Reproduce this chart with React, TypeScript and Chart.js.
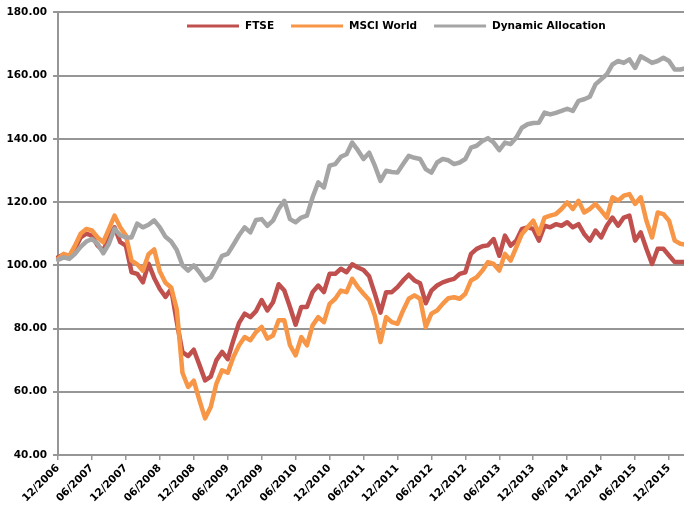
import React, { useEffect, useRef } from "react";
import { Chart, registerables } from "chart.js";

Chart.register(...registerables);

const months = [
  "12/2006",
  "01/2007", "02/2007", "03/2007", "04/2007", "05/2007", "06/2007", "07/2007", "08/2007", "09/2007", "10/2007", "11/2007", "12/2007",
  "01/2008", "02/2008", "03/2008", "04/2008", "05/2008", "06/2008", "07/2008", "08/2008", "09/2008", "10/2008", "11/2008", "12/2008",
  "01/2009", "02/2009", "03/2009", "04/2009", "05/2009", "06/2009", "07/2009", "08/2009", "09/2009", "10/2009", "11/2009", "12/2009",
  "01/2010", "02/2010", "03/2010", "04/2010", "05/2010", "06/2010", "07/2010", "08/2010", "09/2010", "10/2010", "11/2010", "12/2010",
  "01/2011", "02/2011", "03/2011", "04/2011", "05/2011", "06/2011", "07/2011", "08/2011", "09/2011", "10/2011", "11/2011", "12/2011",
  "01/2012", "02/2012", "03/2012", "04/2012", "05/2012", "06/2012", "07/2012", "08/2012", "09/2012", "10/2012", "11/2012", "12/2012",
  "01/2013", "02/2013", "03/2013", "04/2013", "05/2013", "06/2013", "07/2013", "08/2013", "09/2013", "10/2013", "11/2013", "12/2013",
  "01/2014", "02/2014", "03/2014", "04/2014", "05/2014", "06/2014", "07/2014", "08/2014", "09/2014", "10/2014", "11/2014", "12/2014",
  "01/2015", "02/2015", "03/2015", "04/2015", "05/2015", "06/2015", "07/2015", "08/2015", "09/2015", "10/2015", "11/2015", "12/2015",
  "01/2016", "02/2016", "03/2016",
];

const ftse = [
  102.5, 103.4, 102.5, 105.2, 108.8, 110.0, 109.4, 106.2, 104.6, 108.8,
  112.0, 107.3, 106.2, 97.8, 97.3, 94.6, 100.5, 96.0, 92.5, 90.0,
  92.5, 82.0, 72.5, 71.3, 73.3, 68.5, 63.6, 64.8, 70.0, 72.6,
  70.3, 76.3, 81.8, 84.7, 83.6, 85.5, 89.0, 85.7, 88.3, 94.0,
  92.0, 86.8, 81.2, 86.8, 86.8, 91.5, 93.6, 91.5, 97.3, 97.3,
  98.9, 97.8, 100.3, 99.3, 98.5, 96.5, 91.0, 85.0, 91.5, 91.5,
  93.1, 95.2, 97.0, 95.2, 94.3, 88.0, 92.0, 93.6, 94.6, 95.2,
  95.7, 97.3, 97.8, 103.6, 105.2, 106.0, 106.3, 108.3, 103.0, 109.4,
  106.2, 107.8, 111.5, 112.0, 111.5, 107.8, 112.5, 112.0, 113.0, 112.5,
  113.6, 112.0, 113.0, 109.9, 107.8, 111.0, 108.8, 112.5, 115.1, 112.5,
  115.1, 115.7, 107.8, 110.4, 105.2, 100.4, 105.2, 105.2, 103.1, 101.0,
  101.0, 101.0,
];

const msciWorld = [
  102.0, 103.6, 103.0, 106.2, 110.0, 111.5, 111.0, 108.8, 107.3, 111.5,
  115.7, 112.0, 109.4, 101.5, 100.3, 98.3, 103.5, 105.0, 98.0, 94.5,
  93.0, 86.0, 66.0, 61.5, 63.5, 57.3, 51.6, 55.2, 62.6, 66.8,
  66.0, 71.0, 74.7, 77.3, 76.3, 78.9, 80.5, 76.8, 77.8, 82.6,
  82.6, 74.7, 71.5, 77.3, 74.7, 81.0, 83.6, 82.0, 87.8, 89.4,
  92.0, 91.5, 95.7, 93.1, 91.0, 89.0, 84.0, 75.7, 83.6, 82.0,
  81.5, 85.7, 89.4, 90.5, 89.4, 80.5, 84.7, 85.7, 87.8, 89.6,
  89.9, 89.4, 91.0, 95.2, 96.2, 98.3, 101.0, 100.4, 98.3, 103.6,
  101.5, 105.7, 109.9, 112.0, 114.1, 109.9, 115.1, 115.7, 116.2, 117.8,
  119.9, 117.8, 120.4, 116.7, 117.8, 119.4, 117.3, 115.1, 121.5, 120.4,
  122.0, 122.5, 119.4, 121.5, 114.1, 108.8, 116.7, 116.2, 114.1, 107.8,
  106.8, 106.5,
];

const dynamicAllocation = [
  101.7, 102.5, 102.0, 103.6, 105.8, 107.5, 108.3, 106.8, 103.8, 106.8,
  111.6, 109.5, 108.8, 108.8, 113.2, 112.0, 112.8, 114.2, 112.0, 109.0,
  107.5, 104.8, 100.0, 98.3, 100.0, 97.8, 95.2, 96.2, 99.4, 103.0,
  103.6, 106.5, 109.5, 112.0, 110.4, 114.3, 114.6, 112.5, 114.1, 117.8,
  120.4, 114.6, 113.6, 115.1, 115.7, 121.5, 126.2, 124.6, 131.5, 132.0,
  134.3, 135.1, 138.8, 136.4, 133.6, 135.6, 131.5, 126.7, 129.9, 129.5,
  129.3, 132.0, 134.6, 134.0, 133.6, 130.4, 129.3, 132.5, 133.6, 133.2,
  132.0, 132.5, 133.6, 137.2, 137.8, 139.3, 140.2, 138.8, 136.4, 138.8,
  138.3, 140.4, 143.5, 144.6, 145.0, 145.1, 148.3, 147.7, 148.2, 148.8,
  149.5, 148.8, 152.0, 152.5, 153.3, 157.2, 158.8, 160.4, 163.5, 164.6,
  164.0, 165.1, 162.4, 166.1, 165.1, 164.0, 164.6, 165.6, 164.6, 161.9,
  161.9, 162.3,
];

const seriesNames = ["FTSE", "MSCI World", "Dynamic Allocation"];
const seriesColors = ["#C0504D", "#F79646", "#A5A5A5"];
const yMin = 40;
const yMax = 180;
const yStep = 20;
const labelEvery = 6;

const FONT_FAMILY = '"DejaVu Sans", Verdana, sans-serif';
const GRID = "#969696";

const insideLegend = {
  id: "insideLegend",
  afterDraw(chart: any) {
    const ctx = chart.ctx;
    ctx.save();
    ctx.font = `bold 10.5px ${FONT_FAMILY}`;
    ctx.textBaseline = "middle";
    ctx.textAlign = "left";
    let x = 187;
    const y = 26;
    chart.data.datasets.forEach((ds: any) => {
      ctx.strokeStyle = ds.borderColor;
      ctx.lineWidth = 3;
      ctx.lineCap = "butt";
      ctx.beginPath();
      ctx.moveTo(x, y);
      ctx.lineTo(x + 52, y);
      ctx.stroke();
      x += 58;
      ctx.fillStyle = "#000";
      ctx.fillText(ds.label, x, y + 0.5);
      x += ctx.measureText(ds.label).width + 17;
    });
    ctx.restore();
  },
};

export default function App() {
  const canvasRef = useRef<HTMLCanvasElement | null>(null);

  useEffect(() => {
    document.body.style.margin = "0";
    const canvas = canvasRef.current;
    if (!canvas) return;
    const tickFont = { family: FONT_FAMILY, size: 10.5, weight: "bold" as const };
    const values = [ftse, msciWorld, dynamicAllocation];
    const chart = new Chart(canvas, {
      type: "line",
      data: {
        labels: months,
        datasets: values.map((v, i) => ({
          label: seriesNames[i],
          data: v,
          borderColor: seriesColors[i],
          backgroundColor: seriesColors[i],
          borderWidth: 4.5,
          pointRadius: 0,
          tension: 0,
          fill: false,
          borderJoinStyle: "round" as const,
          borderCapStyle: "round" as const,
          order: 3 - i,
        })),
      },
      options: {
        animation: false,
        responsive: false,
        layout: { padding: { top: 11, left: 0, right: 0, bottom: 0 } },
        plugins: {
          legend: { display: false },
          tooltip: { enabled: false },
        },
        scales: {
          x: {
            type: "category",
            grid: {
              display: true,
              drawOnChartArea: false,
              drawTicks: true,
              tickLength: 5,
              color: GRID,
              lineWidth: 1.5,
            },
            border: { display: true, color: GRID, width: 2 },
            ticks: {
              autoSkip: false,
              maxRotation: 45,
              minRotation: 45,
              padding: 2,
              color: "#000",
              font: tickFont,
              callback: (_v: any, idx: number) => (idx % labelEvery === 0 ? months[idx] : null),
            },
            afterFit: (scale: any) => {
              scale.height = 51;
              scale.paddingLeft = 0;
              scale.paddingRight = 0;
            },
          },
          y: {
            min: yMin,
            max: yMax,
            ticks: {
              stepSize: yStep,
              padding: 6,
              color: "#000",
              font: tickFont,
              callback: (v: any) => Number(v).toFixed(2),
            },
            grid: { color: GRID, lineWidth: 2, tickLength: 5, drawTicks: true },
            border: { display: true, color: GRID, width: 2 },
            afterFit: (scale: any) => {
              scale.width = 58;
            },
          },
        },
      },
      plugins: [insideLegend],
    });
    return () => chart.destroy();
  }, []);

  return (
    <div style={{ position: "relative", width: 684, height: 506, overflow: "hidden", background: "#fff" }}>
      <canvas ref={canvasRef} width={686} height={506} style={{ width: 686, height: 506, display: "block" }} />
    </div>
  );
}
